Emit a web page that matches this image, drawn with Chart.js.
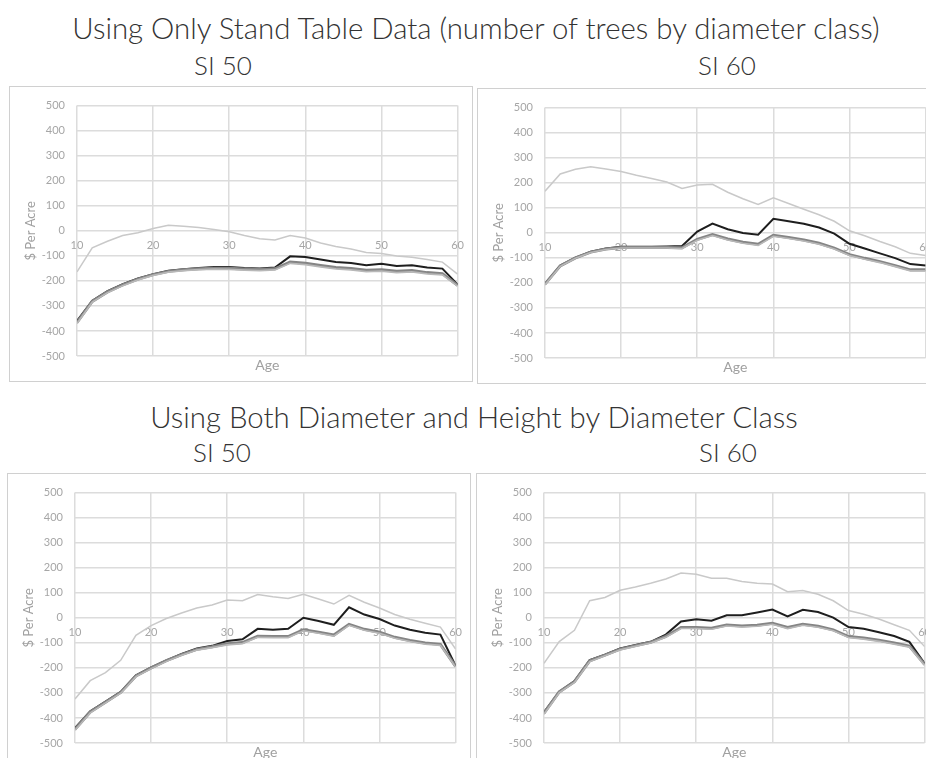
<!DOCTYPE html>
<html>
<head>
<meta charset="utf-8">
<script src="https://cdn.jsdelivr.net/npm/chart.js@4.4.1/dist/chart.umd.min.js"></script>
<style>
  html, body { margin: 0; padding: 0; background: #fff; }
  body { width: 926px; height: 758px; overflow: hidden; position: relative; font-family: Lato, "Open Sans", sans-serif; }
  .t { position: absolute; transform: translate(-50%, -50%); white-space: nowrap; color: #333; font-size: 29.4px; line-height: 1; font-weight: 300; }
  .s { font-size: 26px; }
  .panel { position: absolute; width: 462px; height: 294px; border: 1px solid #d0d0d0; background: #fff; }
  .panel canvas { display: block; }
</style>
</head>
<body>
<div class="t" style="left:476px; top:28px;">Using Only Stand Table Data (number of trees by diameter class)</div>
<div class="t s" style="left:223px; top:65px;">SI 50</div>
<div class="t s" style="left:727px; top:65px;">SI 60</div>
<div class="t" style="left:474px; top:417px;">Using Both Diameter and Height by Diameter Class</div>
<div class="t s" style="left:222px; top:452px;">SI 50</div>
<div class="t s" style="left:728px; top:452px;">SI 60</div>

<div class="panel" style="left:9px; top:86px;"><canvas id="c1" width="462" height="294"></canvas></div>
<div class="panel" style="left:477px; top:88px;"><canvas id="c2" width="462" height="294"></canvas></div>
<div class="panel" style="left:7px; top:473px;"><canvas id="c3" width="462" height="294"></canvas></div>
<div class="panel" style="left:476px; top:473px;"><canvas id="c4" width="462" height="294"></canvas></div>

<script>
// ---- data ----
const ages = [10,12,14,16,18,20,22,24,26,28,30,32,34,36,38,40,42,44,46,48,50,52,54,56,58,60];
const yTicks = [-500,-400,-300,-200,-100,0,100,200,300,400,500];
const xTicks = [10,20,30,40,50,60];

// Stand table only, SI 50
const light1 = [-164,-68,-42,-19,-8,9,22,18,13,5,-4,-19,-32,-37,-19,-29,-49,-63,-73,-87,-91,-101,-106,-115,-125,-173];
const black1 = [-360,-279,-241,-213,-190,-173,-160,-154,-149,-145,-145,-149,-151,-147,-102,-105,-115,-125,-129,-138,-132,-141,-138,-147,-151,-215];
const grayA1 = [-366,-282,-244,-216,-193,-175,-162,-156,-152,-150,-150,-153,-155,-152,-125,-130,-139,-147,-151,-158,-156,-162,-159,-167,-171,-218];
const grayB1 = [-370,-285,-247,-219,-196,-178,-165,-159,-155,-153,-154,-157,-159,-156,-130,-135,-144,-152,-156,-163,-161,-167,-164,-172,-176,-221];

// Stand table only, SI 60
const light2 = [166,235,254,264,255,245,230,217,203,177,191,194,162,136,113,140,117,94,72,46,8,-12,-35,-56,-82,-91];
const black2 = [-204,-131,-99,-76,-63,-56,-56,-56,-55,-53,5,37,14,-1,-8,56,46,36,21,-3,-44,-63,-82,-101,-125,-131];
const grayA2 = [-205,-132,-100,-77,-65,-59,-59,-59,-59,-60,-26,-7,-25,-38,-46,-10,-19,-29,-42,-61,-87,-102,-115,-131,-148,-148];
const grayB2 = [-208,-134,-102,-79,-67,-61,-61,-61,-61,-63,-30,-11,-29,-42,-50,-14,-23,-33,-46,-65,-91,-106,-119,-135,-152,-152];

// Diameter and height, SI 50
const light3 = [-324,-251,-219,-170,-70,-31,-3,19,39,51,71,68,93,84,77,94,75,55,90,62,39,13,-6,-22,-37,-125];
const black3 = [-440,-373,-335,-296,-230,-198,-170,-144,-122,-112,-93,-86,-44,-48,-44,0,-13,-28,42,13,-5,-31,-48,-60,-67,-192];
const grayA3 = [-445,-376,-337,-298,-232,-200,-171,-147,-126,-116,-104,-99,-74,-75,-75,-48,-58,-69,-26,-46,-58,-78,-91,-101,-106,-194];
const grayB3 = [-449,-380,-340,-301,-235,-203,-174,-150,-129,-119,-108,-103,-78,-79,-79,-52,-62,-73,-30,-50,-62,-82,-95,-105,-110,-197];

// Diameter and height, SI 60
const light4 = [-182,-95,-50,68,81,110,123,138,155,179,174,158,158,145,138,135,104,109,94,68,29,14,-5,-28,-50,-115];
const black4 = [-377,-295,-253,-169,-147,-122,-109,-96,-67,-15,-6,-12,10,10,21,33,6,32,23,1,-37,-44,-58,-73,-96,-182];
const grayA4 = [-381,-296,-255,-172,-149,-125,-111,-98,-74,-39,-39,-42,-29,-33,-30,-22,-39,-26,-34,-48,-75,-81,-90,-101,-113,-186];
const grayB4 = [-385,-299,-258,-175,-152,-128,-114,-101,-78,-43,-43,-46,-33,-37,-34,-26,-43,-30,-38,-52,-79,-85,-94,-105,-117,-190];

const yTitle = '$ Per Acre';
const xTitle = 'Age';

// ---- chart building ----
function pts(vals) { return vals.map((v, i) => ({ x: ages[i], y: v })); }

const GRID = '#dcdcdc';
const TICK = '#a6a6a6';

function makePanel(id, light, black, grayA, grayB) {
  const ctx = document.getElementById(id);
  new Chart(ctx, {
    type: 'line',
    data: {
      datasets: [
        { data: pts(grayB), borderColor: '#b8b8b8', borderWidth: 1.6, order: 1 },
        { data: pts(grayA), borderColor: '#858585', borderWidth: 3, order: 2 },
        { data: pts(black), borderColor: '#1e1e1e', borderWidth: 2, order: 3 },
        { data: pts(light), borderColor: '#c9c9c9', borderWidth: 1.5, order: 4 }
      ]
    },
    options: {
      responsive: false,
      animation: false,
      devicePixelRatio: 1,
      layout: { padding: { left: 0, right: 13, top: 9, bottom: 0 } },
      elements: { point: { radius: 0 }, line: { tension: 0 } },
      plugins: { legend: { display: false }, tooltip: { enabled: false } },
      scales: {
        x: {
          type: 'linear', position: { y: 0 }, min: 10, max: 60,
          afterBuildTicks: s => { s.ticks = xTicks.map(v => ({ value: v })); },
          grid: { color: GRID, lineWidth: 1.5, drawTicks: false },
          border: { display: false },
          ticks: { color: TICK, padding: 8, font: { family: 'Lato', size: 11 }, maxRotation: 0 }
        },
        xAge: {
          type: 'linear', axis: 'x', position: 'bottom', min: 0, max: 1,
          grid: { display: false }, border: { display: false },
          ticks: { display: false },
          title: { display: true, text: xTitle, color: '#a0a0a0', font: { family: 'Lato', size: 14 }, padding: { top: 0, bottom: 7 } },
          afterFit: s => { s.height = 25; }
        },
        y: {
          type: 'linear', position: 'left', min: -500, max: 500,
          afterBuildTicks: s => { s.ticks = yTicks.map(v => ({ value: v })); },
          grid: { color: GRID, lineWidth: 1.5, drawTicks: false },
          border: { display: false },
          ticks: { color: TICK, padding: 12, font: { family: 'Lato', size: 11 } },
          title: { display: true, text: yTitle, color: '#a0a0a0', font: { family: 'Lato', size: 13 }, padding: { top: 13, bottom: 0 } },
          afterFit: s => { s.width = 67; }
        }
      }
    }
  });
}

makePanel('c1', light1, black1, grayA1, grayB1);
makePanel('c2', light2, black2, grayA2, grayB2);
makePanel('c3', light3, black3, grayA3, grayB3);
makePanel('c4', light4, black4, grayA4, grayB4);
</script>
</body>
</html>
